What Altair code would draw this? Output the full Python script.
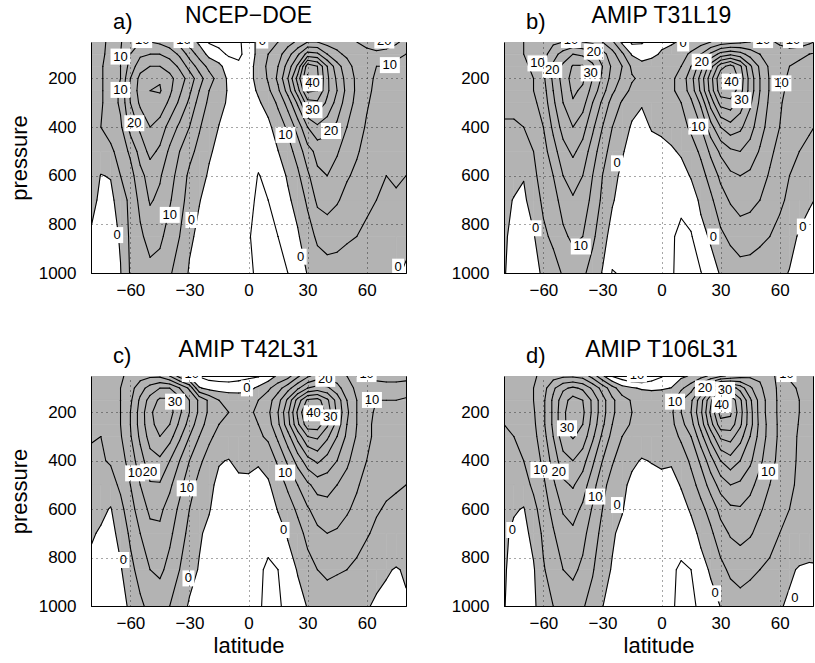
import altair as alt
import pandas as pd

FONT = "Liberation Sans"
GRAY = "#b3b3b3"

LATS = list(range(-80, 81, 5))
PLEV = [50, 100, 150, 200, 250, 300, 400, 500, 600, 700, 850, 1000]
CONTOUR_LEVELS = list(range(-10, 51, 5))
X_TICKS = [-60, -30, 0, 30, 60]
Y_TICKS = [200, 400, 600, 800, 1000]
TITLES = ["NCEP\u2212DOE", "AMIP T31L19", "AMIP T42L31", "AMIP T106L31"]
TAGS = ["a)", "b)", "c)", "d)"]

# zonal wind (m/s); one list per latitude (-80..80 step 5), values at PLEV (top -> bottom)
U_A = [
    [3, 3, 3, 3, 3, 3, 4, 4, 3, 1.5, -0.5, -2],
    [4, 4, 4.5, 4.5, 4.5, 4.5, 5, 3, -0.2, -1, -2, -2.5],
    [6, 6.5, 7, 7, 7, 7, 7, 4, 0.3, -1.5, -2, -2],
    [9.5, 10, 10, 10, 11, 11, 9, 7, 5, 3, 0.5, -0.2],
    [14, 15, 17, 20, 21, 20, 17, 11, 8, 6, 6, 5.5],
    [15, 19, 23, 26.5, 27, 26, 21, 17, 13.5, 11.5, 9, 7],
    [15, 20, 25, 29, 30, 29, 25, 21.5, 17, 15.5, 12, 8.5],
    [14, 20, 25, 29.5, 30.5, 28, 23, 19, 15.5, 14, 11, 8],
    [12, 18, 23, 26.5, 26, 24, 18, 14, 12, 10.5, 8, 5.5],
    [8, 14, 19, 22.5, 21, 19, 14, 10, 8, 7, 5, 3],
    [3, 8, 13, 18, 16, 14, 10, 6.5, 4, 3, 0.8, -0.5],
    [-1, 3, 8, 12, 10, 8, 5.5, 3.5, 1.5, 0.2, -1, -1.5],
    [-5.5, -1.5, 3.5, 7, 5, 4, 2, 0.5, -0.5, -1.5, -2, -2.5],
    [-6, -4, 1.5, 3, 2, 1, -0.1, -1, -2, -2.5, -3, -3],
    [-7, -5.5, -3, -1, -0.5, -0.5, -1.5, -2, -2.5, -3, -3.5, -3.5],
    [-6, -6, -4, -2.5, -2, -2, -2.5, -3, -3.5, -4, -4.5, -4],
    [-2, -3, -2, -1.5, -1.5, -2, -2, -2.5, -3, -3.5, -4.5, -4],
    [1, 1.5, 2, 1.5, 0.5, -0.5, -2, -3.5, -5.2, -6, -7, -6],
    [3, 5, 6, 5.5, 4, 1.5, -1, -2.5, -4, -5, -6, -6],
    [5, 8, 10, 11, 9, 6, 2, -0.1, -2, -3.5, -5, -5.5],
    [8, 13, 17, 20, 17, 12, 6, 3, 0.5, -0.7, -3, -5],
    [11, 19, 26, 32, 28, 21, 12, 7, 4, 1.5, -0.5, -2],
    [15, 27, 43, 46, 41, 33, 20, 13, 9, 6, 2.5, 0.2],
    [15, 26, 40, 41, 40, 34, 24, 16.5, 14, 11, 6, 2],
    [13, 20, 30, 31, 31, 29, 22, 17, 15, 12, 7, 3],
    [13, 16, 22, 24, 25, 23, 19, 15.5, 13, 10.5, 6.5, 3],
    [13, 14, 17, 18, 18.5, 17.5, 15, 12.5, 10.5, 8.5, 5.5, 3],
    [15, 12, 13, 14, 14, 13.5, 12, 10.5, 9, 7.5, 5, 3],
    [18, 12, 11, 11, 11, 10.5, 9.5, 8.5, 7.5, 6, 4, 2.5],
    [20, 13, 10, 9.5, 9, 8.5, 8, 7, 6, 5, 3.5, 2],
    [19, 12, 10, 8.5, 8, 7.5, 7, 6, 5, 4.5, 3, 1.5],
    [16, 11, 9, 8, 7.5, 7, 6.5, 6, 5.5, 4.5, 2, 0.5],
    [13, 10, 8, 7, 6.5, 6, 5.5, 5.3, 5, 3.5, 1, -0.5],
]

U_B = [
    [8, 9, 10, 9, 8, 6, 4.5, 4, 3, 1.5, 0.8, 0.3],
    [9, 9, 9, 8.5, 8, 6, 4.5, 4, 2, -0.3, -1.5, -1.5],
    [10, 10, 9.5, 9, 8.5, 7, 5, 4, 0.3, -1, -1.5, -1.5],
    [11, 11, 10.5, 10, 10, 9, 6, 5, 4, 2.5, -0.5, -1],
    [12, 13, 14, 14, 13, 12, 10, 8, 7, 6, 4, 0.5],
    [14, 18, 21, 21, 20, 19, 16, 13, 10, 8, 6, 3],
    [15, 22, 26, 27, 26, 25, 22, 18, 15, 12, 9, 5.5],
    [16, 25, 30.5, 32, 31, 29.5, 25, 21, 17, 14.5, 11, 7],
    [15, 24, 30.5, 31, 29, 27, 22, 18, 15, 13, 10, 6],
    [14, 22, 26, 25, 23, 20, 16, 12.5, 10, 8.5, 6, 3],
    [10, 17, 20, 19, 17, 14, 10, 7, 5, 4, 2, -0.3],
    [6, 12, 14, 13, 11, 8, 5, 3, 1.5, 0.5, -2, -5.3],
    [-1, 6, 10, 9, 7, 4.5, 2, 0.5, -1, -2, -3, -4.5],
    [-6, -0.5, 4, 5.5, 4, 1.5, -0.5, -2, -3, -4, -4.5, -4],
    [-5.5, -2, 1.5, 4, 3, 0.5, -2, -3, -4, -4.5, -4.5, -4],
    [-3, -1, 2, 3, 3, 2, 0.5, -2.5, -4, -4.5, -4.5, -3.5],
    [-1, 0.5, 2, 3, 3, 2, 1, -1.5, -3.5, -4.5, -4.5, -3.5],
    [-0.5, 1.5, 3, 4, 4, 3, 1.5, -0.5, -3, -4, -4.5, -4.5],
    [0.5, 3, 5, 7, 7, 5, 3, 0.5, -1.5, -4, -6, -6.5],
    [1.5, 6, 10, 13, 12, 9, 6, 2.5, 0.3, -2, -5.5, -6],
    [3, 10, 18, 22, 21, 16, 10, 6, 3, 0.8, -1.2, -5.2],
    [5, 16, 28, 33, 32, 27, 18, 11, 7, 4, 0.5, -1.5],
    [7, 22, 38, 44, 43, 37, 25, 16, 11, 8, 4, 0.3],
    [8, 24, 42, 47, 44, 38, 28, 19, 14, 10.5, 6, 2],
    [9, 22, 36, 38, 37, 33, 26, 20, 15, 12, 7.5, 3],
    [10, 18, 26, 28, 28, 26, 22, 18, 14, 11.5, 7, 3],
    [12, 15, 19, 20, 20, 19, 17, 14.5, 12, 10, 6, 2.5],
    [14, 13, 14, 14.5, 14.5, 14, 13, 11, 9.5, 8, 5, 2],
    [16, 12, 11, 11, 11, 10.5, 10, 8.5, 7, 6, 3.5, 1],
    [18, 12, 10, 9.5, 9, 8.5, 8, 6.5, 5, 4, 1.5, -0.2],
    [18, 11, 9, 8, 7.5, 7, 6.5, 5, 3.5, 2, -0.5, -1.5],
    [16, 10, 8, 7, 6.5, 6, 5.5, 4, 2.5, 0.5, -1.5, -2],
    [14, 9, 7, 6, 5.5, 5, 4.5, 3, 1.5, -0.5, -2, -2.5],
]

U_C = [
    [6, 6, 6, 5.5, 5.5, 5.2, 4.5, 3.5, 2, 0.5, -1, -1.5],
    [7, 7, 7, 6, 5.5, 5, 4.5, 3, 1, -0.5, -1.5, -2],
    [8, 8, 8, 7, 7, 6.5, 5.5, 3, -0.3, -1.5, -2, -2],
    [9.5, 10, 10, 10, 10, 9.5, 8, 6, 3.5, 1.5, -0.5, -1],
    [11, 13, 14, 15, 15, 14.5, 12, 10, 8, 6, 3.5, 0.5],
    [13, 18, 21, 22, 22, 21, 18, 15, 12.5, 10, 7, 4],
    [14, 22, 27, 29, 28.5, 27, 23, 19.5, 16, 13.5, 10, 6.5],
    [14, 25, 31, 33, 32, 30, 24, 19.5, 16, 14, 11, 7],
    [10, 25, 31, 32, 30, 27, 20, 16, 13, 11, 8.5, 5],
    [3, 20, 27, 26, 24, 21, 15, 11.5, 9, 7.5, 5, 2],
    [-1, 14, 20, 20, 18, 15, 10, 7, 5, 3.5, 1.5, -0.5],
    [-5.5, 0.5, 14, 14, 12, 10, 6, 3.5, 2, 0.5, -0.3, -2.5],
    [-7, -1.5, 9, 9, 8, 6, 3, 1, 0.3, -1, -2.5, -3],
    [-7.5, -2, 5, 6, 5, 3.5, 0.3, -1, -2, -3, -4, -4],
    [-7.5, -2.5, 4, 5, 4, 3, -0.2, -1.5, -3, -4, -4.5, -4],
    [-7, -2, 3, 4, 4, 3, 1.5, -1.5, -2.5, -3.5, -4, -3.5],
    [-6, -1.5, 3, 4, 4, 3, 1.5, -1.3, -2.5, -3.5, -4, -3.5],
    [-5.5, 1, 5, 6, 5, 4, 0.5, -1.5, -2.5, -3.5, -4.5, -4.5],
    [-3, 4, 8, 9, 8, 6, 1.5, -0.5, -2.5, -4, -5.5, -6],
    [1, 8, 13, 15, 14, 11, 6, 2, 0.3, -2, -5, -5.5],
    [3, 13, 21, 24, 23, 18, 11, 6, 2.5, 0.5, -2, -4],
    [9, 19, 32, 36, 34, 27, 17, 10, 6, 3, 0.3, -1.5],
    [14, 25, 41, 46, 43, 35, 23, 14, 9.5, 6.5, 3, 0.2],
    [17, 27, 42, 46, 43, 36, 26, 17, 12, 9, 5, 2],
    [18, 26, 36, 38, 36, 31, 23, 17, 13, 10, 6, 2.5],
    [17, 22, 28, 29, 28, 25, 20, 15, 12, 9.5, 5.5, 2],
    [15, 17, 20, 21, 20, 19, 16, 13, 10.5, 8.5, 5, 1.5],
    [15, 14, 15, 15, 15, 14.5, 12.5, 10.5, 9, 7, 4, 1],
    [16, 13, 11, 11, 11, 11, 10, 8.5, 7, 5.5, 2.5, 0.3],
    [17, 12, 10, 9.5, 9, 9, 8, 7, 5.5, 4, 1, -0.5],
    [18, 12, 10, 9, 8.5, 8, 7, 6, 4.5, 3, 0.3, -0.8],
    [18, 12, 10, 9, 8.5, 8, 7, 5.5, 4, 2.5, -0.2, -0.5],
    [17, 12, 9.5, 8.5, 8, 7.5, 6.5, 5, 3.5, 2, 0.3, -0.3],
]

U_D = [
    [6, 6, 6, 5.5, 5, 4.5, 4, 3, 2, 1, 0.5, 0.2],
    [7, 7, 6.5, 6, 5.5, 5, 4.5, 3, 0.5, -1, -1.5, -1.5],
    [8, 8, 7.5, 7, 6.5, 6, 5, 3, -0.3, -1.5, -2, -2],
    [9.5, 10, 10, 9.5, 9, 8.5, 7.5, 6, 3.5, 1.5, -0.5, -1],
    [11, 13, 14, 14, 14, 13, 11, 9, 7.5, 6, 4.5, 3],
    [13, 19, 21, 21, 21, 20, 17, 14, 11.5, 9.5, 7.5, 5],
    [14, 24, 28, 29, 29, 28, 23, 19, 15.5, 13, 10, 7],
    [14, 26, 32, 33, 32.5, 30.5, 25, 20.5, 17, 14, 11, 7.5],
    [13, 24, 30, 31, 30, 28, 22, 17.5, 14, 11.5, 9, 5.5],
    [8, 19, 24, 24, 23, 21, 16, 12, 9.5, 7.5, 5.5, 3],
    [1, 13, 17, 17, 16, 14, 10, 6.5, 5, 3.5, 1.5, 0.1],
    [-5.5, 7, 11, 11, 10, 8.5, 5.5, 3, 2, 0.5, -0.3, -1.5],
    [-8, 2, 7, 7, 6.5, 5, 2.5, 1, 0.3, -1, -2.5, -3],
    [-10.5, 0.5, 4.5, 5, 4.5, 3, 0.8, -1, -2, -3, -3.5, -3.5],
    [-10.5, -0.5, 3.5, 4, 3.5, 2.5, -0.3, -1.5, -2.5, -3.5, -4, -4],
    [-8, -0.8, 3, 3.5, 3, 2, 0.2, -1.5, -2.5, -3.5, -4, -3.5],
    [-5.5, -0.5, 3, 3.5, 3, 2, 0.8, -1.5, -2.5, -3.5, -4, -3.5],
    [-3, 0.1, 3, 4, 3.5, 2.5, 0.5, -1.5, -2.5, -3.5, -4.5, -4.5],
    [-1, 4, 9.5, 10, 8.5, 6, 2, 0.3, -1.5, -3.5, -5.5, -6],
    [0.5, 8, 14, 15, 13, 10, 6, 3, 0.5, -1.5, -5, -5.5],
    [3, 15, 23, 24, 22, 18, 11, 7, 3.5, 1, -1.5, -4.5],
    [6, 24, 34, 36, 33, 27, 18, 12, 7, 4, 0.5, -1.5],
    [9, 33, 45, 47, 43, 36, 25, 17, 11.5, 8, 3.5, 0.1],
    [11, 33, 44, 46, 43, 37, 28, 20, 14, 10.5, 6, 2],
    [13, 28, 36, 37, 36, 32, 25, 19, 14.5, 11.5, 7, 3],
    [14, 21, 26, 27, 27, 25, 21, 16.5, 13, 10.5, 6, 2.5],
    [14, 16, 18, 18, 18.5, 18, 16, 13, 10.5, 8.5, 5, 2],
    [12, 12, 12.5, 12.5, 13, 13, 12, 10, 8.5, 7, 4, 1],
    [8, 9, 9, 9, 9, 9, 8.5, 7.5, 6.5, 5, 2, 0.3],
    [4.5, 6, 6.5, 6.5, 6.5, 6.5, 6, 5.5, 5, 3.5, 0.5, -0.5],
    [4, 4.5, 5, 5, 4.8, 4.5, 4.5, 4.5, 4, 2.5, -0.3, -1],
    [3.5, 4, 4, 4, 3.5, 3.5, 3.5, 3.5, 3, 2, -0.5, -1],
    [3, 3.5, 3.5, 3.5, 3, 3, 3, 3, 2.5, 1.5, -0.3, -0.5],
]

# contour labels: (latitude, pressure, text)
LABELS_A = [(-65, 110, "10"), (-65, 247, "10"), (-58, 384, "20"), (-40, 761, "10"),
            (-29, 782, "0"), (-66.7, 844, "0"), (32.5, 220, "40"), (32.5, 330, "30"),
            (41.9, 416, "20"), (18.8, 432, "10"), (71.8, 145, "10"), (26.5, 933, "0"),
            (76, 974, "0"), (-54, 42, "10"), (-33, 42, "10"), (7, 44, "0"), (69, 44, "20")]
LABELS_B = [(-63, 138, "10"), (-55.5, 165, "20"), (-34.4, 90, "20"), (-36, 179, "30"),
            (-22.6, 549, "0"), (-64, 816, "0"), (-41, 891, "10"), (11, 56, "0"),
            (20.4, 131, "20"), (35.6, 213, "40"), (40.6, 289, "30"), (18.7, 398, "10"),
            (60.9, 220, "10"), (26.3, 850, "0"), (71.8, 809, "0"), (-46, 42, "10"),
            (51.6, 42, "10"), (66.8, 42, "10")]
LABELS_C = [(-37.3, 156, "30"), (-57.6, 452, "10"), (-50, 445, "20"), (-31.4, 514, "10"),
            (-63.6, 810, "0"), (-30.5, 886, "0"), (-0.8, 101, "0"), (39, 62, "20"),
            (33, 204, "40"), (41.5, 221, "30"), (62.7, 149, "10"), (18.6, 449, "10"),
            (17.8, 686, "0"), (-28.8, 42, "10"), (60, 42, "10")]
LABELS_D = [(-48, 266, "30"), (-61.5, 438, "10"), (-52.2, 445, "20"), (-33.6, 548, "10"),
            (-22.6, 583, "0"), (-75.8, 686, "0"), (6.9, 156, "10"), (22.1, 101, "20"),
            (32.3, 108, "30"), (30.6, 170, "40"), (54.2, 445, "10"), (27.2, 948, "0"),
            (67.7, 968, "0"), (-12.5, 44, "10"), (63.5, 42, "10")]


def interp(pa, pb, va, vb, lev):
    t = (lev - va) / (vb - va)
    return (pa[0] + t * (pb[0] - pa[0]), pa[1] + t * (pb[1] - pa[1]))


def crossings(pts, vals, lev):
    above = [v > lev for v in vals]
    cross = {}
    for e in range(4):
        a, b = e, (e + 1) % 4
        if above[a] != above[b]:
            cross[e] = interp(pts[a], pts[b], vals[a], vals[b], lev)
    return above, cross


def cell_segments(pts, vals, lev):
    above, cross = crossings(pts, vals, lev)
    if len(cross) == 2:
        e = sorted(cross)
        return [(cross[e[0]], cross[e[1]])]
    if len(cross) == 4:
        center = sum(vals) / 4 > lev
        return [(cross[(k - 1) % 4], cross[k]) for k in range(4) if above[k] != center]
    return []


def cell_polys(pts, vals, lev):
    above, cross = crossings(pts, vals, lev)
    if len(cross) == 4 and not (sum(vals) / 4 > lev):
        return [[cross[(k - 1) % 4], pts[k], cross[k]] for k in range(4) if above[k]]
    poly = []
    for k in range(4):
        if above[k]:
            poly.append(pts[k])
        if k in cross:
            poly.append(cross[k])
    return [poly]


def geometry(U):
    rects, polys, segs = [], [], []
    pid = 0
    for j in range(len(PLEV) - 1):
        run = None
        for i in range(len(LATS) - 1):
            pts = [(LATS[i], PLEV[j]), (LATS[i + 1], PLEV[j]),
                   (LATS[i + 1], PLEV[j + 1]), (LATS[i], PLEV[j + 1])]
            vals = [U[i][j], U[i + 1][j], U[i + 1][j + 1], U[i][j + 1]]
            if all(v > 0 for v in vals):
                if run is None:
                    run = i
            else:
                if run is not None:
                    rects.append(dict(x=LATS[run], x2=LATS[i], y=PLEV[j], y2=PLEV[j + 1]))
                    run = None
                if any(v > 0 for v in vals):
                    for poly in cell_polys(pts, vals, 0):
                        for k, (px, py) in enumerate(poly):
                            polys.append(dict(pid=pid, k=k, x=px, y=py))
                        pid += 1
            for lev in CONTOUR_LEVELS:
                for a, b in cell_segments(pts, vals, lev):
                    segs.append(dict(x=a[0], y=a[1], x2=b[0], y2=b[1]))
        if run is not None:
            rects.append(dict(x=LATS[run], x2=LATS[-1], y=PLEV[j], y2=PLEV[j + 1]))
    return pd.DataFrame(rects), pd.DataFrame(polys), pd.DataFrame(segs)


BOX2 = "M-1,-0.8H1V0.8H-1Z"
BOX1 = "M-0.75,-1H0.75V1H-0.75Z"


def panel(U, labels, title, tag, width, height, xmax, ytitle, xtitle, tdx):
    rects, polys, segs = geometry(U)
    lab = pd.DataFrame(labels, columns=["x", "y", "t"])
    lab["shape"] = [BOX2 if len(t) > 1 else BOX1 for t in lab["t"]]
    lab["sz"] = [400 if len(t) > 1 else 256 for t in lab["t"]]

    xs = alt.Scale(domain=[-80, xmax], nice=False, zero=False)
    ys = alt.Scale(domain=[50, 1000], reverse=True, nice=False, zero=False)
    xax = alt.Axis(values=X_TICKS, title=xtitle, grid=True, zindex=1, labelPadding=9,
                   titlePadding=4, ticks=False, tickSize=0, domain=True, domainColor="black")
    yax = alt.Axis(values=Y_TICKS, title=ytitle, grid=True, zindex=1, labelPadding=15, format="d",
                   titlePadding=7, ticks=False, tickSize=0, domain=True, domainColor="black")

    def X(f):
        return alt.X(f, type="quantitative", scale=xs, axis=xax)

    def Y(f):
        return alt.Y(f, type="quantitative", scale=ys, axis=yax)

    fill_rect = alt.Chart(rects).mark_rect(fill=GRAY, stroke=GRAY, strokeWidth=0.6, clip=True).encode(
        x=X("x"), x2=alt.X2("x2"), y=Y("y"), y2=alt.Y2("y2"))
    fill_poly = alt.Chart(polys).mark_line(fill=GRAY, stroke=GRAY, strokeWidth=0.6,
                                           interpolate="linear-closed", clip=True).encode(
        x=X("x"), y=Y("y"), detail="pid:N", order="k:Q")
    lines = alt.Chart(segs).mark_rule(color="black", strokeWidth=1.1, strokeCap="round", clip=True).encode(
        x=X("x"), y=Y("y"), x2=alt.X2("x2"), y2=alt.Y2("y2"))
    boxes = alt.Chart(lab).mark_point(filled=True, fill="white", opacity=1, strokeWidth=0, clip=True).encode(
        x=X("x"), y=Y("y"), shape=alt.Shape("shape:N", scale=None), size=alt.Size("sz:Q", scale=None))
    texts = alt.Chart(lab).mark_text(font=FONT, fontSize=13, color="black", clip=True).encode(
        x=X("x"), y=Y("y"), text="t:N")
    head = pd.DataFrame({"tag": [tag], "title": [title]})
    tagl = alt.Chart(head).mark_text(
        align="left", baseline="alphabetic", fontSize=22, font=FONT, color="black").encode(
        x=alt.value(22), y=alt.value(-13), text="tag:N")
    titl = alt.Chart(head).mark_text(
        align="center", baseline="alphabetic", fontSize=23, font=FONT, color="black").encode(
        x=alt.value(width / 2 + tdx), y=alt.value(-19), text="title:N")

    return alt.layer(fill_rect, fill_poly, lines, boxes, texts, tagl, titl).properties(
        width=width, height=height)


XMAX_R = -80 + 160 * 309 / 315
pa = panel(U_A, LABELS_A, TITLES[0], TAGS[0], 315, 231, 80, "pressure", None, 0)
pb = panel(U_B, LABELS_B, TITLES[1], TAGS[1], 309, 231, XMAX_R, None, None, 3)
pc = panel(U_C, LABELS_C, TITLES[2], TAGS[2], 315, 230, 80, "pressure", "latitude", 0)
pd_ = panel(U_D, LABELS_D, TITLES[3], TAGS[3], 309, 230, XMAX_R, None, "latitude", 3)

chart = alt.concat(pa, pb, pc, pd_, columns=2, spacing={"row": 103, "column": 98}, bounds="flush").properties(
    padding={"left": 7, "top": 4, "right": 0, "bottom": 0},
    autosize=alt.AutoSizeParams(type="pad"),
).configure_view(stroke="black", strokeWidth=1).configure_axis(
    labelFont=FONT, labelFontSize=17, labelColor="black",
    titleFont=FONT, titleFontSize=22, titleFontWeight="normal", titleColor="black",
    gridColor="black", gridDash=[1, 4], gridOpacity=0.7, gridWidth=1,
)

chart.save("out.html", embed_options={"renderer": "svg", "actions": False})
